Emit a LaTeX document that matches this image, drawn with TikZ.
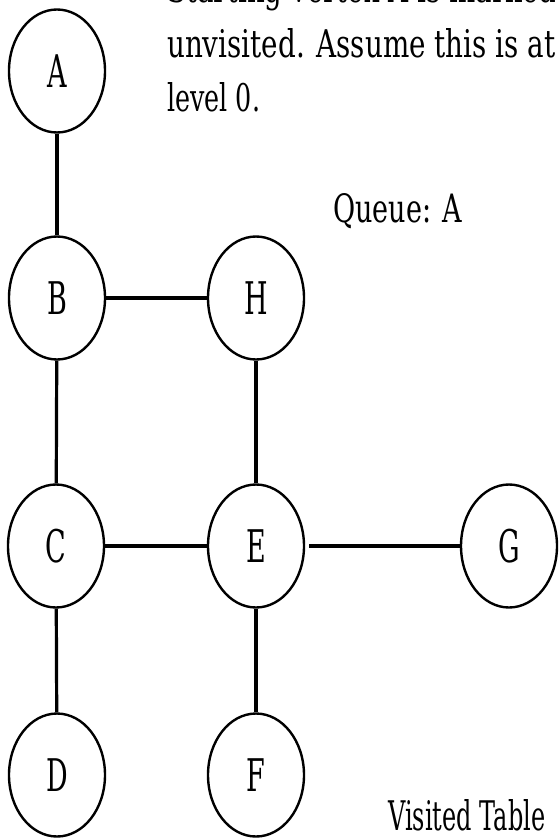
\documentclass[tikz,border=0pt]{standalone}
\usepackage{fontspec}
\usepackage{graphicx}
\setmainfont{DejaVu Serif}
\usetikzlibrary{shapes.geometric}
\tikzset{
  vert/.style={ellipse, draw, line width=2.4pt, minimum width=96pt, minimum height=123pt, inner sep=0pt},
  link/.style={line width=3.2pt},
  txt/.style={anchor=base west, inner sep=0pt},
}
\newcommand{\vlabel}[1]{\scalebox{0.6}[1]{\fontsize{45}{45}\selectfont #1}}
\begin{document}
\begin{tikzpicture}[x=1pt,y=-1pt]
\useasboundingbox (0,0) rectangle (558,840);
\fill[white] (0,0) rectangle (558,840);
% text
\node[txt] (t1) at (167,3) {\resizebox{389pt}{29pt}{Starting vertex A is marked}};
\node[txt] (t2) at (167,58) {\resizebox{388pt}{29pt}{unvisited. Assume this is at}};
\node[txt] (t3) at (167,112) {\resizebox{93pt}{29pt}{level 0.}};
\node[txt] (q) at (333,222) {\resizebox{129pt}{29pt}{Queue: A}};
\node[txt] (vt) at (388,830) {\resizebox{157pt}{31pt}{Visited Table}};
% vertices
\node[vert] (A) at (57,71) {\vlabel{A}};
\node[vert] (B) at (57,298) {\vlabel{B}};
\node[vert] (H) at (256,298) {\vlabel{H}};
\node[vert] (C) at (56,546) {\vlabel{C}};
\node[vert] (E) at (256,546) {\vlabel{E}};
\node[vert] (G) at (509,546) {\vlabel{G}};
\node[vert] (D) at (57,775) {\vlabel{D}};
\node[vert] (F) at (256,775) {\vlabel{F}};
% edges
\draw[link] (A) -- (B);
\draw[link] (B) -- (H);
\draw[link] (B) -- (C);
\draw[link] (H) -- (E);
\draw[link] (C) -- (E);
\draw[link, shorten <=4pt] (E) -- (G);
\draw[link] (C) -- (D);
\draw[link] (E) -- (F);
\end{tikzpicture}
\end{document}
